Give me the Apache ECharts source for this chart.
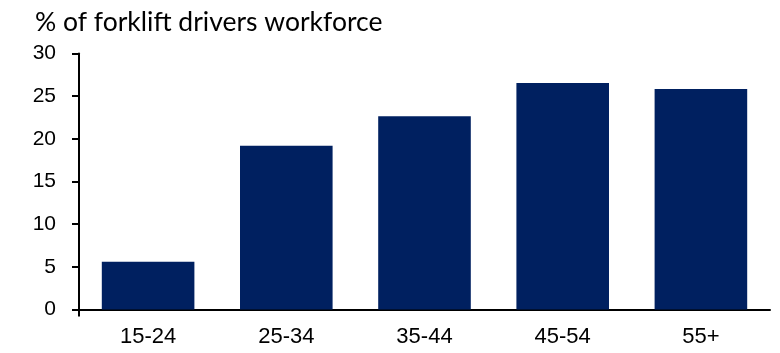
<!DOCTYPE html>
<html>
<head>
<meta charset="utf-8">
<script src="https://cdn.jsdelivr.net/npm/echarts@6/dist/echarts.min.js"></script>
<style>
  html, body { margin: 0; padding: 0; background: #fff; }
  #chart { width: 780px; height: 353px; }
</style>
</head>
<body>
<div id="chart"></div>
<script>
// Age bands of the forklift driver workforce
const ageBands = ['15-24', '25-34', '35-44', '45-54', '55+'];
// Share of workforce in each band (%)
const shareOfWorkforce = [5.6, 19.2, 22.65, 26.55, 25.85];
// Value axis ticks
const yTicks = [0, 5, 10, 15, 20, 25, 30];

const labelFont = '"Liberation Sans", Arial, sans-serif';
const chart = echarts.init(document.getElementById('chart'), null, { renderer: 'canvas' });

chart.setOption({
  animation: false,
  backgroundColor: '#ffffff',
  title: {
    text: '% of forklift drivers workforce',
    left: 30,
    top: 4,
    textStyle: {
      fontFamily: 'Lato',
      fontWeight: 'normal',
      fontSize: 26.5,
      color: '#000000'
    }
  },
  grid: {
    left: 79,
    right: 10,
    top: 53.5,
    bottom: 43.5,
    containLabel: false
  },
  xAxis: {
    type: 'category',
    data: ageBands,
    boundaryGap: true,
    axisLine: { show: true, lineStyle: { color: '#000000', width: 2 } },
    axisTick: { show: false },
    axisLabel: {
      interval: 0,
      margin: 16,
      fontFamily: labelFont,
      fontSize: 22,
      color: '#000000'
    },
    splitLine: { show: false }
  },
  yAxis: {
    type: 'value',
    min: yTicks[0],
    max: yTicks[yTicks.length - 1],
    interval: yTicks[1] - yTicks[0],
    axisLine: { show: true, lineStyle: { color: '#000000', width: 2 } },
    axisTick: {
      show: true,
      length: 7,
      inside: false,
      lineStyle: { color: '#000000', width: 2 }
    },
    axisLabel: {
      margin: 23,
      fontFamily: labelFont,
      fontSize: 21,
      color: '#000000'
    },
    splitLine: { show: false }
  },
  series: [{
    type: 'bar',
    data: shareOfWorkforce,
    barCategoryGap: '33%',
    itemStyle: { color: '#002060' }
  }]
});

// Short tick below the origin, where the two axes cross
const c0 = chart.convertToPixel({ gridIndex: 0 }, [0, yTicks[0]]);
const c1 = chart.convertToPixel({ gridIndex: 0 }, [1, yTicks[0]]);
const originX = c0[0] - (c1[0] - c0[0]) / 2;
const originY = c0[1];
chart.setOption({
  graphic: [{
    type: 'line',
    shape: { x1: originX, y1: originY, x2: originX, y2: originY + 7 },
    style: { stroke: '#000000', lineWidth: 2 }
  }]
});
</script>
</body>
</html>
